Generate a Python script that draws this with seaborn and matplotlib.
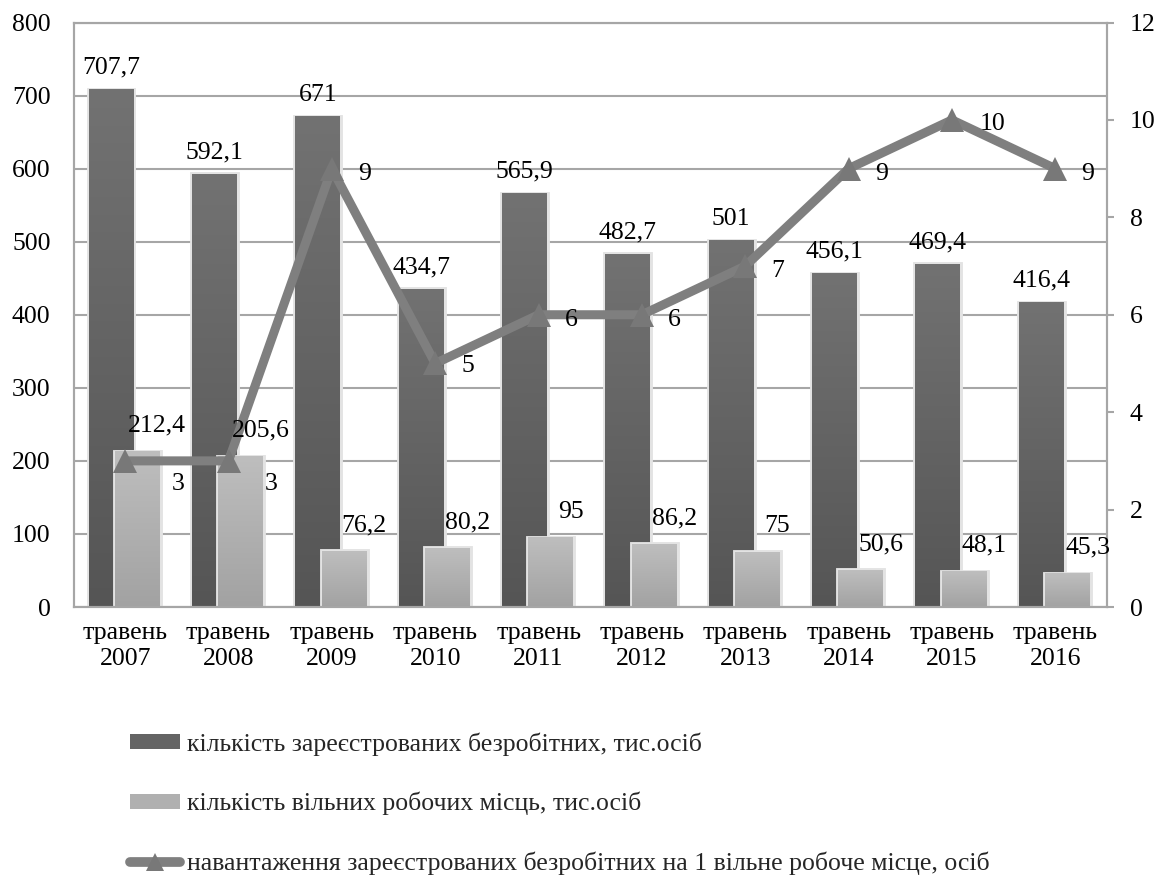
import numpy as np
import pandas as pd
import matplotlib
matplotlib.use('Agg')
import matplotlib.pyplot as plt
import seaborn as sns
from matplotlib.colors import LinearSegmentedColormap
from matplotlib.lines import Line2D
from matplotlib.patches import Patch

# дані з діаграми
years = ['2007', '2008', '2009', '2010', '2011', '2012', '2013', '2014', '2015', '2016']
month = 'травень'
unemployed = [707.7, 592.1, 671, 434.7, 565.9, 482.7, 501, 456.1, 469.4, 416.4]
vacancies = [212.4, 205.6, 76.2, 80.2, 95, 86.2, 75, 50.6, 48.1, 45.3]
load = [3, 3, 9, 5, 6, 6, 7, 9, 10, 9]

legend_names = ['кількість зареєстрованих безробітних, тис.осіб',
                'кількість вільних робочих місць, тис.осіб',
                'навантаження зареєстрованих безробітних на 1 вільне робоче місце, осіб']

tick_labels = [month + '\n' + y for y in years]

sns.set_theme(style='white')
plt.rcParams['font.family'] = ['Liberation Serif', 'DejaVu Serif']
plt.rcParams['font.size'] = 18.5

GRID = '#a6a6a6'
LINE = '#7f7f7f'

fig, ax = plt.subplots(figsize=(11.61, 8.82), dpi=100)
fig.subplots_adjust(left=73.5 / 1161, right=1107 / 1161,
                    top=1 - 22.5 / 882, bottom=1 - 607 / 882)

pos = np.arange(len(years))
df = pd.DataFrame({'pos': pos, 'unemployed': unemployed,
                   'vacancies': vacancies, 'load': load})

# стовпчики з перекриттям, як в Excel
sns.barplot(x=df['pos'] - 0.137, y=df['unemployed'], native_scale=True, width=0.435,
            errorbar=None, color='#666666', ax=ax)
sns.barplot(x=df['pos'] + 0.118, y=df['vacancies'], native_scale=True, width=0.435,
            errorbar=None, color='#b0b0b0', ax=ax)


def shade(bar, top, bottom, z):
    # градієнт зверху вниз + світла "тінь" по краю
    x0, y0 = bar.get_x(), bar.get_y()
    w, h = bar.get_width(), bar.get_height()
    bar.set_facecolor('none')
    bar.set_edgecolor('#e3e3e3')
    bar.set_linewidth(3.5)
    bar.set_zorder(z)
    cmap = LinearSegmentedColormap.from_list('g', [bottom, top])
    grad = np.linspace(0, 1, 256).reshape(-1, 1)
    ax.imshow(grad, cmap=cmap, extent=(x0, x0 + w, y0, y0 + h), origin='lower',
              aspect='auto', zorder=z + 0.05, clip_path=bar)


n = len(years)
for b in ax.patches[:n]:
    shade(b, '#727272', '#555555', 2.0)
for b in ax.patches[n:2 * n]:
    shade(b, '#bebebe', '#a2a2a2', 2.2)

ax.set_xlim(-0.5, n - 0.5)
ax.set_ylim(0, 800)
ax.set_yticks(np.arange(0, 801, 100))
ax.set_xticks(pos)
ax.set_xticklabels(tick_labels, linespacing=1.2)
ax.set_xlabel('')
ax.set_ylabel('')
ax.set_axisbelow(True)
ax.yaxis.grid(True, color=GRID, lw=1.5)
ax.tick_params(axis='y', length=0, pad=16.5, labelsize=18.5, colors='black')
ax.tick_params(axis='x', length=0, pad=11, labelsize=18.5, colors='black')
for s in ax.spines.values():
    s.set_color(GRID)
    s.set_linewidth(1.5)

# лінія навантаження на правій осі
ax2 = ax.twinx()
sns.lineplot(x=df['pos'], y=df['load'], ax=ax2, color=LINE, lw=6.5, marker='^',
             markersize=17.5, markeredgewidth=0, markerfacecolor='#787878')
ax2.set_ylim(0, 12)
ax2.set_yticks(np.arange(0, 13, 2))
ax2.set_ylabel('')
ax2.set_xlim(-0.5, n - 0.5)
ax2.tick_params(axis='y', length=5, width=1.5, color=GRID, pad=11.5,
                labelsize=18.5, labelcolor='black')
for s in ax2.spines.values():
    s.set_color(GRID)
    s.set_linewidth(1.5)

# підписи значень (на ax2, щоб бути над лінією)
for i in range(n):
    ax2.annotate(str(unemployed[i]).replace('.', ','), (pos[i] - 0.137, unemployed[i]),
                 xycoords=ax.transData, xytext=(0, 16), textcoords='offset pixels',
                 ha='center', va='baseline', color='black')
    ax2.annotate(str(vacancies[i]).replace('.', ','), (pos[i] + 0.118, vacancies[i]),
                 xycoords=ax.transData, xytext=(20, 20), textcoords='offset pixels',
                 ha='center', va='baseline', color='black')

line_dx = [47, 36, 26, 26, 26, 26, 26, 26, 28, 26]
line_dy = [-29, -29, -11, -9, -11, -11, -11, -11, -10, -11]
for i in range(n):
    ax2.annotate(str(load[i]), (pos[i], load[i]), xytext=(line_dx[i], line_dy[i]),
                 textcoords='offset pixels', ha='left', va='baseline', color='black')

handles = [Patch(facecolor='#646464', edgecolor='none'),
           Patch(facecolor='#b0b0b0', edgecolor='none'),
           Line2D([], [], color=LINE, lw=7, marker='^', markersize=13,
                  markerfacecolor='#787878', markeredgewidth=0, solid_capstyle='round')]
fig.legend(handles, legend_names, loc='upper left', bbox_to_anchor=(130 / 1161, 1 - 732 / 882),
           frameon=False, borderpad=0, borderaxespad=0, handlelength=1.95, handleheight=0.5,
           handletextpad=0.25, labelspacing=1.42, fontsize=18.5)

fig.savefig('out.png', dpi=100)
